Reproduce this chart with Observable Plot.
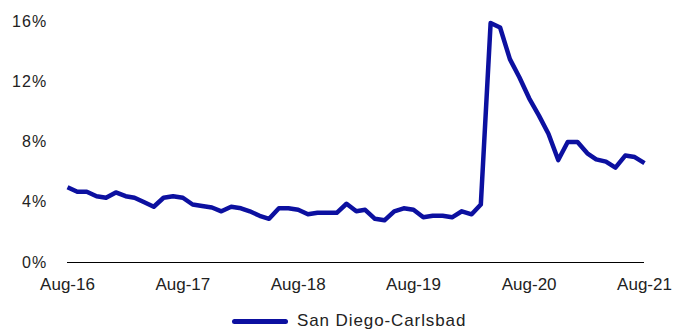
<!DOCTYPE html>
<html>
<head>
<meta charset="utf-8">
<script src="https://cdn.jsdelivr.net/npm/d3@7"></script>
<script src="https://cdn.jsdelivr.net/npm/@observablehq/plot@0.6"></script>
<style>
  html, body { margin: 0; padding: 0; background: #fff; }
  #wrap { position: relative; width: 673px; height: 330px; font-family: "Liberation Sans", Arial, sans-serif; }
  #legend { position: absolute; left: 232px; top: 311px; display: flex; align-items: center; font-size: 17px; letter-spacing: 0.9px; color: #222; }
  #legend .sw { width: 56px; height: 5px; border-radius: 3px; background: #0c10a0; margin-right: 9px; }
  #chart svg g[aria-label="y-axis tick label"] text { letter-spacing: 1.2px; }
</style>
</head>
<body>
<div id="wrap"><div id="chart"></div><div id="legend"><span class="sw"></span><span>San Diego-Carlsbad</span></div></div>
<script>
const seriesName = "San Diego-Carlsbad";
const startMonth = "2016-08";
const unemploymentRate = [
  5.0, 4.7, 4.7, 4.4, 4.3, 4.65, 4.4, 4.3, 4.0, 3.7, 4.3, 4.4,
  4.3, 3.85, 3.75, 3.65, 3.4, 3.7, 3.6, 3.4, 3.1, 2.9, 3.6, 3.6,
  3.5, 3.2, 3.3, 3.3, 3.3, 3.9, 3.4, 3.5, 2.9, 2.8, 3.4, 3.6,
  3.5, 3.0, 3.1, 3.1, 3.0, 3.4, 3.2, 3.85, 15.9, 15.6, 13.5, 12.3,
  10.9, 9.75, 8.55, 6.8, 8.0, 8.0, 7.25, 6.85, 6.7, 6.3, 7.1, 7.0,
  6.6
];
const yTicks = [0, 4, 8, 12, 16];
const xTickLabels = ["Aug-16", "Aug-17", "Aug-18", "Aug-19", "Aug-20", "Aug-21"];

const start = d3.utcParse("%Y-%m")(startMonth);
const data = unemploymentRate.map((v, i) => ({date: d3.utcMonth.offset(start, i), value: v}));
const xTicks = xTickLabels.map(s => d3.utcParse("%b-%y")(s));

const chart = Plot.plot({
  width: 673,
  height: 304,
  marginLeft: 67,
  marginRight: 29,
  marginTop: 21,
  marginBottom: 42,
  style: {fontFamily: "Liberation Sans, Arial, sans-serif", fontSize: "17px", color: "#222", background: "#fff"},
  x: {type: "utc", domain: [data[0].date, data[data.length - 1].date], label: null},
  y: {domain: [0, 16], label: null},
  marks: [
    Plot.axisY({ticks: yTicks, tickFormat: d => d + "%", tickSize: 0, tickPadding: 20, fontSize: 16, label: null}),
    Plot.axisX({ticks: xTicks, tickFormat: d3.utcFormat("%b-%y"), tickSize: 0, tickPadding: 15, fontSize: 17, label: null}),
    Plot.ruleY([0], {stroke: "#000", strokeWidth: 1}),
    Plot.line(data, {x: "date", y: "value", stroke: "#0c10a0", strokeWidth: 4.5, strokeLinejoin: "round", strokeLinecap: "butt"})
  ]
});
document.getElementById("chart").appendChild(chart);
</script>
</body>
</html>
